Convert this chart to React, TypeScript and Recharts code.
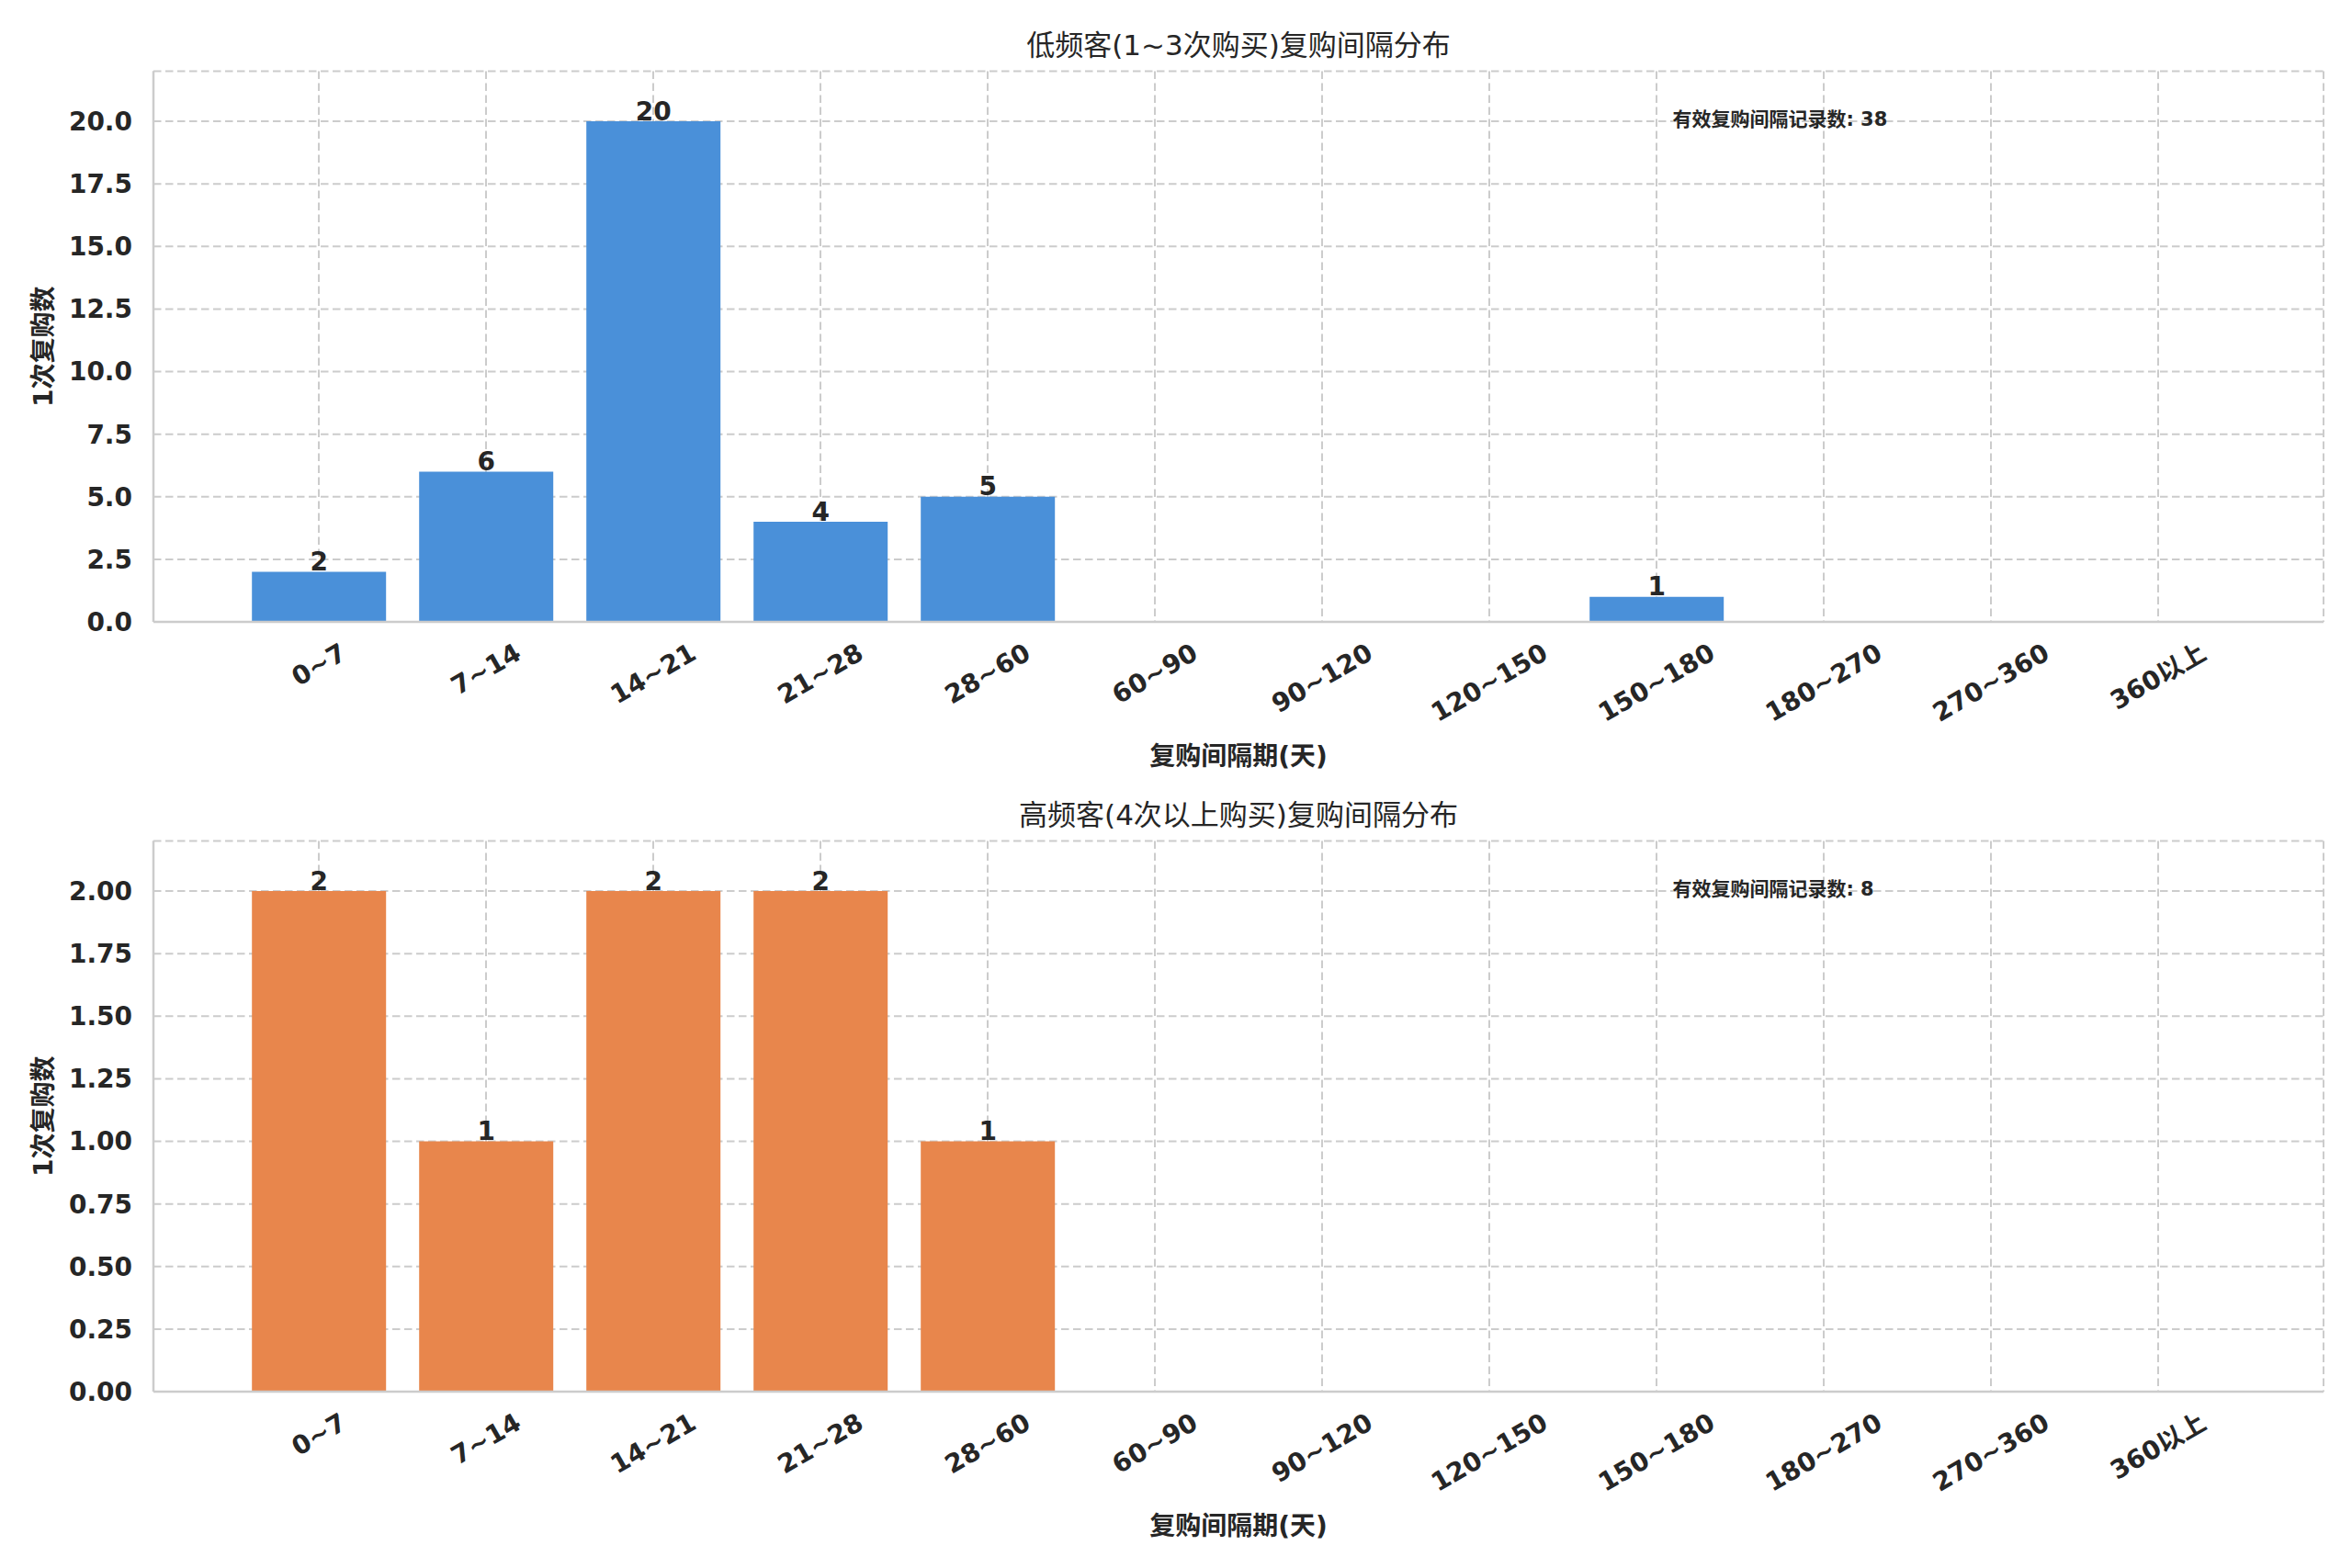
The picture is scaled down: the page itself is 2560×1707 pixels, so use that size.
import React from 'react';
import { BarChart, Bar, XAxis, YAxis, CartesianGrid, LabelList } from 'recharts';

// ---- data ----
const categories = ['0~7', '7~14', '14~21', '21~28', '28~60', '60~90', '90~120', '120~150', '150~180', '180~270', '270~360', '360以上'];
const lowFreqValues = [2, 6, 20, 4, 5, 0, 0, 0, 1, 0, 0, 0];
const highFreqValues = [2, 1, 2, 2, 1, 0, 0, 0, 0, 0, 0, 0];
const lowFreqTicks = [0, 2.5, 5, 7.5, 10, 12.5, 15, 17.5, 20];
const highFreqTicks = [0, 0.25, 0.5, 0.75, 1, 1.25, 1.5, 1.75, 2];
const lowFreqTitle = '低频客(1~3次购买)复购间隔分布';
const highFreqTitle = '高频客(4次以上购买)复购间隔分布';
const xAxisTitle = '复购间隔期(天)';
const yAxisTitle = '1次复购数';
const totalLabel = '有效复购间隔记录数';

// ---- style / layout ----
const FONT = "'DejaVu Sans', 'Noto Sans CJK SC', sans-serif";
const TEXT = '#262626';
const GRID = '#cccccc';
const W = 2560;
const H = 854;
const PLOT_LEFT = 167;
const PLOT_RIGHT = 2529;
const PLOT_TOP = 77.5;
const PLOT_BOTTOM = 677;
const CENTER_X = (PLOT_LEFT + PLOT_RIGHT) / 2;
const YLABEL_X = 47;

const textWidth = (s: string, size: number) =>
  [...s].reduce((w, ch) => {
    if (/[0-9]/.test(ch)) return w + 0.696 * size;
    if (ch === '~') return w + 0.838 * size;
    if (ch.charCodeAt(0) > 0x2e80) return w + 1.0 * size;
    return w + 0.6 * size;
  }, 0);

function XTick(props: any) {
  const { x, y, payload } = props;
  const s = String(payload.value);
  const w = textWidth(s, 28);
  const h = 28 * 1.164;
  const dy = 17 + (w * 0.5 + h * 0.866) / 2;
  return (
    <g transform={`translate(${x},${y + dy})`}>
      <text
        transform="rotate(-30)"
        textAnchor="middle"
        dominantBaseline="central"
        fontSize={28}
        fontWeight="bold"
        fill={TEXT}
        fontFamily={FONT}
      >
        {s}
      </text>
    </g>
  );
}

type PanelProps = {
  values: number[];
  ticks: number[];
  yMax: number;
  decimals: number;
  color: string;
  title: string;
  top: number;
};

function Panel({ values, ticks, yMax, decimals, color, title, top }: PanelProps) {
  const data = categories.map((c, i) => ({ category: c, value: values[i] }));
  const total = values.reduce((a, b) => a + b, 0);
  const spine = { stroke: GRID, strokeWidth: 2.5 };
  const yMid = (PLOT_TOP + PLOT_BOTTOM) / 2;
  return (
    <div style={{ position: 'absolute', left: 0, top, width: W, height: H }}>
      <BarChart
        width={W}
        height={H}
        data={data}
        margin={{ top: PLOT_TOP, right: W - PLOT_RIGHT, bottom: 0, left: 0 }}
        barCategoryGap="10%"
      >
        <CartesianGrid stroke={GRID} strokeDasharray="8.5 4.5" strokeWidth={2} />
        <XAxis
          dataKey="category"
          interval={0}
          padding={{ left: 89, right: 89 }}
          height={H - PLOT_BOTTOM}
          tickSize={0}
          tickMargin={0}
          tickLine={false}
          axisLine={spine}
          tick={<XTick />}
        />
        <XAxis
          xAxisId="top"
          orientation="top"
          dataKey="category"
          height={0}
          tick={false}
          tickLine={false}
          axisLine={spine}
        />
        <YAxis
          domain={[0, yMax]}
          ticks={ticks}
          allowDataOverflow
          interval={0}
          width={PLOT_LEFT}
          tickSize={0}
          tickMargin={23}
          tickLine={false}
          axisLine={spine}
          tickFormatter={(v: number) => v.toFixed(decimals)}
          tick={{ fontSize: 28, fontWeight: 'bold', fill: TEXT, fontFamily: FONT }}
        />
        <YAxis yAxisId="right" orientation="right" width={0} tick={false} tickLine={false} axisLine={spine} />
        <Bar dataKey="value" fill={color} isAnimationActive={false}>
          <LabelList
            dataKey="value"
            position="top"
            offset={1.5}
            formatter={(v: any) => (Number(v) > 0 ? String(v) : '')}
            style={{ fontSize: 28, fontWeight: 'bold', fill: TEXT, fontFamily: FONT }}
          />
        </Bar>
      </BarChart>
      <svg
        width={W}
        height={H}
        style={{ position: 'absolute', left: 0, top: 0, pointerEvents: 'none' }}
      >
        <text x={CENTER_X} y={60} textAnchor="middle" fontSize={31} fill={TEXT} fontFamily={FONT}>
          {title}
        </text>
        <text
          x={CENTER_X}
          y={823}
          textAnchor="middle"
          dominantBaseline="central"
          fontSize={28}
          fontWeight="bold"
          fill={TEXT}
          fontFamily={FONT}
        >
          {xAxisTitle}
        </text>
        <text
          x={YLABEL_X}
          y={yMid}
          transform={`rotate(-90, ${YLABEL_X}, ${yMid})`}
          textAnchor="middle"
          dominantBaseline="central"
          fontSize={28}
          fontWeight="bold"
          fill={TEXT}
          fontFamily={FONT}
        >
          {yAxisTitle}
        </text>
        <text
          x={PLOT_LEFT + 0.7 * (PLOT_RIGHT - PLOT_LEFT)}
          y={130}
          dominantBaseline="central"
          fontSize={21}
          fontWeight="bold"
          fill={TEXT}
          fontFamily={FONT}
        >
          {`${totalLabel}: ${total}`}
        </text>
      </svg>
    </div>
  );
}

export default function App() {
  return (
    <div style={{ position: 'absolute', left: 0, top: 0, width: 2560, height: 1707, background: '#ffffff' }}>
      <Panel
        values={lowFreqValues}
        ticks={lowFreqTicks}
        yMax={22}
        decimals={1}
        color="#4a90d9"
        title={lowFreqTitle}
        top={0}
      />
      <Panel
        values={highFreqValues}
        ticks={highFreqTicks}
        yMax={2.2}
        decimals={2}
        color="#e8864c"
        title={highFreqTitle}
        top={838}
      />
    </div>
  );
}
